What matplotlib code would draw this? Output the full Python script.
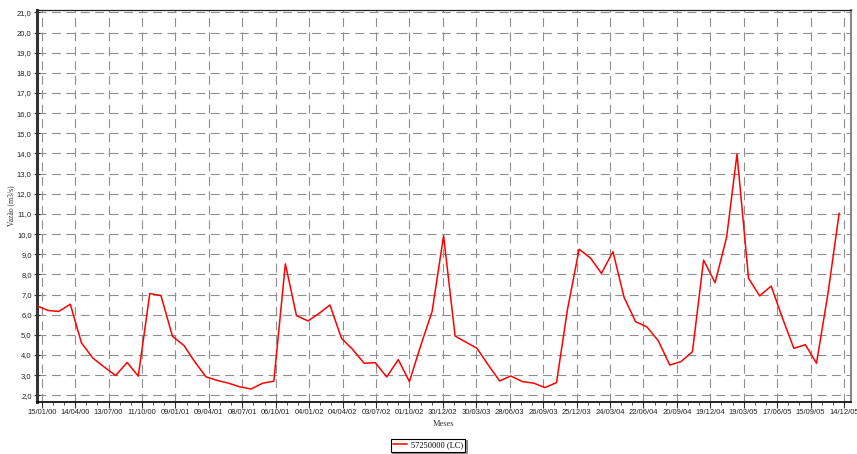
import matplotlib
matplotlib.use("Agg")
import matplotlib.pyplot as plt
import matplotlib.dates as mdates
from matplotlib.ticker import MultipleLocator, FuncFormatter
import pandas as pd

# monthly discharge, Jan 2000 .. Dec 2005
meses = pd.date_range("2000-01-01", "2005-12-01", freq="MS")
vazao = [6.45, 6.21, 6.16, 6.52, 4.60, 3.84, 3.41, 2.98, 3.63, 2.95, 7.05, 6.95,
         4.93, 4.47, 3.69, 2.92, 2.74, 2.60, 2.42, 2.31, 2.60, 2.70, 8.52, 5.95,
         5.69, 6.08, 6.48, 4.83, 4.28, 3.59, 3.62, 2.91, 3.77, 2.68, 4.50, 6.15,
         9.91, 4.94, 4.65, 4.33, 3.51, 2.71, 2.96, 2.68, 2.60, 2.38, 2.63, 6.30,
         9.25, 8.80, 8.05, 9.13, 6.86, 5.65, 5.40, 4.71, 3.50, 3.67, 4.16, 8.71,
         7.59, 9.84, 13.97, 7.81, 6.93, 7.42, 5.85, 4.33, 4.51, 3.59, 7.06, 11.03]
serie = "57250000 (LC)"

# axis ticks as in the original (every 90 days from 15/01/00)
xticks = pd.date_range("2000-01-15", periods=25, freq="90D")
xminor = pd.date_range("2000-01-15", "2005-12-31", freq="30D")

fig = plt.figure(figsize=(8.57, 4.54), dpi=100)
ax = fig.add_axes([0.0426, 0.1156, 0.950, 0.8623])

ax.plot(meses, vazao, color="red", lw=1.1, label=serie, zorder=3)

ax.set_xlim(pd.Timestamp("2000-01-01"), pd.Timestamp("2006-01-01"))
ax.set_ylim(1.69, 21.12)

ax.set_xticks(xticks)
ax.set_xticks(xminor, minor=True)
ax.xaxis.set_major_formatter(mdates.DateFormatter("%d/%m/%y"))
ax.yaxis.set_major_locator(MultipleLocator(1.0))
ax.yaxis.set_minor_locator(MultipleLocator(0.2))
ax.yaxis.set_major_formatter(FuncFormatter(lambda v, p: f"{v:.1f}".replace(".", ",")))

for lab in ax.get_xticklabels() + ax.get_yticklabels():
    lab.set_fontfamily("Liberation Sans")
    lab.set_fontsize(5.5)
    lab.set_color("#222222")

ax.tick_params(axis="both", which="major", length=4, width=0.8, color="#333333", pad=1.5)
ax.tick_params(axis="both", which="minor", length=2, width=0.6, color="#333333")
ax.tick_params(axis="y", which="both", direction="inout")

ax.grid(True, which="major", color="#8f8f8f", lw=0.8, linestyle=(0, (8, 5)))

ax.spines["left"].set_linewidth(2.2)
ax.spines["left"].set_color("#333333")
ax.spines["bottom"].set_linewidth(1.3)
ax.spines["bottom"].set_color("#111111")
ax.spines["top"].set_linewidth(0.9)
ax.spines["top"].set_color("#222222")
ax.spines["right"].set_linewidth(1.5)
ax.spines["right"].set_color("#888888")

ax.set_xlabel("Meses", fontfamily="Liberation Serif", fontsize=6, labelpad=3, color="#333333")
ax.set_ylabel("Vazão (m3/s)", fontfamily="Liberation Serif", fontsize=5.5, labelpad=1, color="#333333")

fig.legend(loc="center", bbox_to_anchor=(428 / 857, 1 - 445 / 454),
           prop={"family": "Liberation Serif", "size": 6}, frameon=True,
           fancybox=False, shadow={"ox": 1.2, "oy": -1.2, "color": "#444444"},
           edgecolor="black", handlelength=1.6,
           borderpad=0.3, handletextpad=0.5, borderaxespad=0)
fig.legends[0].get_frame().set_linewidth(0.8)

fig.savefig("out.png", dpi=100)
